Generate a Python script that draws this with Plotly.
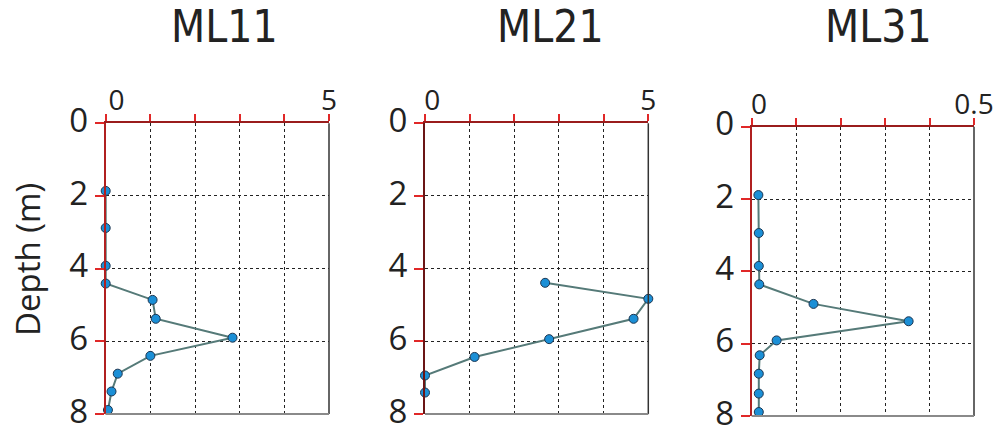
import plotly.graph_objects as go

# ---- data ----
titles = ["ML11", "ML21", "ML31"]

ml11_val = [0.0, 0.0, 0.0, 0.0, 1.05, 1.12, 2.84, 1.0, 0.27, 0.13, 0.05]
ml11_depth = [1.86, 2.88, 3.92, 4.41, 4.86, 5.38, 5.90, 6.40, 6.89, 7.38, 7.89]

ml21_val = [2.69, 5.0, 4.67, 2.78, 1.11, 0.0, 0.0]
ml21_depth = [4.39, 4.83, 5.38, 5.94, 6.43, 6.94, 7.41]

ml31_val = [0.015, 0.016, 0.016, 0.017, 0.139, 0.353, 0.056, 0.018, 0.016, 0.016, 0.016]
ml31_depth = [1.89, 2.94, 3.85, 4.36, 4.90, 5.38, 5.91, 6.32, 6.83, 7.38, 7.89]

x_ranges = [[0, 5], [0, 5], [0, 0.5]]
x_tickvals = [[0, 1, 2, 3, 4, 5], [0, 1, 2, 3, 4, 5], [0, 0.1, 0.2, 0.3, 0.4, 0.5]]
x_ticktext = [["\u00a0\u00a0\u00a00", "", "", "", "", "5"],
              ["\u00a0\u00a00", "", "", "", "", "5"],
              ["\u00a0\u00a00", "", "", "", "", "0.5"]]
depth_ticks = [0, 2, 4, 6, 8]
y_label = "Depth (m)"

series = [(ml11_val, ml11_depth), (ml21_val, ml21_depth), (ml31_val, ml31_depth)]

# ---- layout geometry (pixels) ----
W, H = 1005, 429
px_x = [(105.7, 329.0), (425.0, 648.3), (751.7, 974.0)]
px_y = [(123.3, 414.0), (123.3, 414.0), (126.7, 416.0)]
title_cx = [224, 550, 878]

AX_FONT = "Open Sans, Noto Sans, sans-serif"
TITLE_FONT = "Liberation Sans Narrow, DejaVu Sans Condensed, Roboto Condensed, Roboto, sans-serif"

fig = go.Figure()

for i, ((xv, yv), t) in enumerate(zip(series, titles)):
    n = "" if i == 0 else str(i + 1)
    fig.add_trace(go.Scatter(
        x=xv, y=yv, mode="lines+markers",
        line=dict(color="#557a78", width=2),
        marker=dict(color="#1b8fd6", size=9, line=dict(color="#1c3550", width=1)),
        xaxis="x" + n, yaxis="y" + n, showlegend=False, cliponaxis=False,
    ))
    x0, x1 = px_x[i]
    y0, y1 = px_y[i]
    fig.layout["xaxis" + n] = dict(
        domain=[x0 / W, x1 / W], anchor="y" + n, side="top",
        range=x_ranges[i], tickvals=x_tickvals[i], ticktext=x_ticktext[i],
        showline=True, linecolor="#9a1c1c", linewidth=2,
        ticks="outside", ticklen=7, tickwidth=2, tickcolor="#e02828",
        showgrid=True, gridcolor="#222", griddash="dot", gridwidth=1,
        zeroline=False, tickfont=dict(family=AX_FONT, size=28, color="#222"),
        ticklabelstandoff=-7, ticklabeloverflow="allow",
        fixedrange=True, automargin=False,
    )
    fig.layout["yaxis" + n] = dict(
        domain=[1 - y1 / H, 1 - y0 / H], anchor="x" + n,
        range=[8, 0], tickvals=depth_ticks,
        showline=True, linecolor="#b02020" if i != 1 else "#6b1515", linewidth=2,
        ticks="outside", ticklen=9, tickwidth=2, tickcolor="#e02828",
        showgrid=True, gridcolor="#222", griddash="dot", gridwidth=1,
        zeroline=False, tickfont=dict(family=AX_FONT, size=33, color="#222"),
        ticklabeloverflow="allow", ticklabelshift=3,
        fixedrange=True, automargin=False,
    )
    # right and bottom frame lines
    fig.add_shape(type="line", xref="x" + n + " domain", yref="y" + n + " domain",
                  x0=1, x1=1, y0=0, y1=1, line=dict(color="#333", width=1.5), layer="above")
    fig.add_shape(type="line", xref="x" + n + " domain", yref="y" + n + " domain",
                  x0=0, x1=1, y0=0, y1=0, line=dict(color="#8a8a8a", width=2), layer="above")
    fig.add_annotation(text=t, x=title_cx[i] / W, y=1 - 27 / H, xref="paper", yref="paper",
                       xanchor="center", yanchor="middle", showarrow=False,
                       font=dict(family=TITLE_FONT, size=44, color="#222", weight=300))

fig.add_annotation(text=y_label, x=27 / W, y=1 - 260 / H, xref="paper", yref="paper",
                   textangle=-90, xanchor="center", yanchor="middle", showarrow=False,
                   font=dict(family=AX_FONT, size=33, color="#222"))

fig.update_layout(
    width=W, height=H, margin=dict(l=0, r=0, t=0, b=0),
    paper_bgcolor="white", plot_bgcolor="white",
)

fig.write_html("out.html", config={"displayModeBar": False},
               post_script="document.body.style.margin='0';")
